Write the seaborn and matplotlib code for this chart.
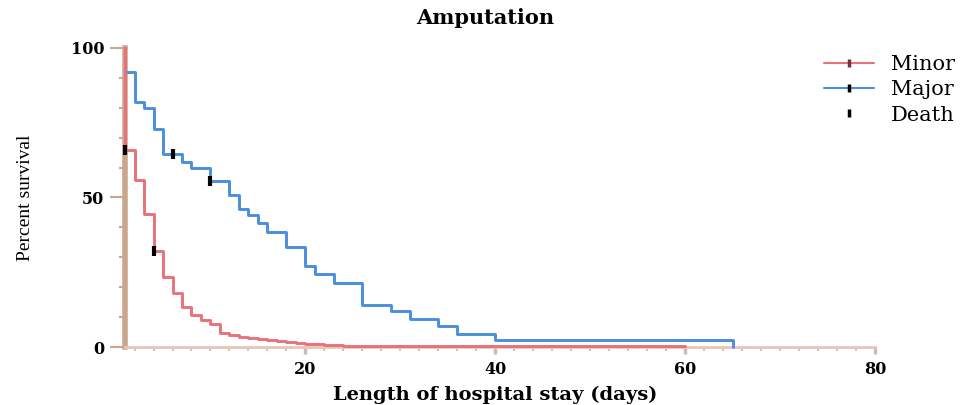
import pandas as pd
import matplotlib.pyplot as plt
import seaborn as sns
from matplotlib.lines import Line2D
from matplotlib.ticker import MultipleLocator

# Kaplan-Meier steps
minor_days = [1, 1, 2, 3, 4, 5, 6, 7, 8, 9, 10, 11, 12, 13, 14, 15, 16, 17, 18, 19, 20, 21, 22, 24, 26, 60]
minor_pct = [100, 66, 56, 44.5, 32, 23.5, 18, 13.5, 10.7, 9, 7.7, 4.7, 4.0, 3.4, 3.0, 2.6, 2.2, 1.9,
             1.6, 1.3, 1.1, 0.9, 0.7, 0.5, 0.3, 0.3]
major_days = [1, 1, 2, 3, 4, 5, 7, 8, 10, 12, 13, 14, 15, 16, 18, 20, 21, 23, 26, 29, 31, 34, 36, 40, 65, 65]
major_pct = [100, 92, 82, 80, 73, 64.5, 62, 60, 55.5, 51, 46, 44, 41.5, 38.5, 33.5, 27, 24.5, 21.5,
             14, 12, 9.5, 7, 4.5, 2.2, 2.2, 0]

# censored points
death_days = [1, 4, 6, 10]
death_pct = [66, 32, 64.5, 55.5]

red = '#e8717a'
blue = '#4a8fdc'
tan = '#c9a68c'

df = pd.concat([
    pd.DataFrame({'day': minor_days, 'pct': minor_pct, 'group': 'Minor'}),
    pd.DataFrame({'day': major_days, 'pct': major_pct, 'group': 'Major'}),
])
df_death = pd.DataFrame({'day': death_days, 'pct': death_pct})

sns.set_style('white')
plt.rcParams['font.family'] = ['DejaVu Serif']
plt.rcParams['text.color'] = 'black'
plt.rcParams['xtick.color'] = 'black'
plt.rcParams['ytick.color'] = 'black'

fig = plt.figure(figsize=(9.7, 4.05), dpi=100)
ax = fig.add_axes([0.1289, 0.1432, 0.7732, 0.7383])

sns.lineplot(data=df, x='day', y='pct', hue='group', palette={'Minor': red, 'Major': blue},
             hue_order=['Major', 'Minor'], estimator=None, sort=False, drawstyle='steps-post',
             linewidth=2.1, legend=False, ax=ax, clip_on=False, zorder=3)
sns.scatterplot(data=df_death, x='day', y='pct', marker='|', s=45, linewidth=3,
                color='black', legend=False, ax=ax, zorder=5, clip_on=False)

ax.set_xlim(1, 80)
ax.set_ylim(0, 100)
sns.despine(ax=ax)
ax.spines['left'].set_color(tan)
ax.spines['left'].set_linewidth(4)
ax.spines['bottom'].set_color('#e6c6b8')
ax.spines['bottom'].set_linewidth(2)

ax.set_yticks([0, 50, 100])
ax.yaxis.set_minor_locator(MultipleLocator(10))
ax.set_xticks([20, 40, 60, 80])
ax.xaxis.set_minor_locator(MultipleLocator(2))
ax.tick_params(axis='both', which='both', bottom=True, left=True, direction='out')
ax.tick_params(axis='y', which='major', length=11, width=1.5, color=tan, pad=4)
ax.tick_params(axis='y', which='minor', length=4.5, width=1.5, color=tan)
ax.tick_params(axis='x', which='major', length=5, width=2.5, color='#c8bcb4', pad=5)
ax.tick_params(axis='x', which='minor', length=3, width=1.5, color='#d8c0b4')
for lab in ax.get_xticklabels() + ax.get_yticklabels():
    lab.set_fontweight('bold')
    lab.set_fontsize(11.5)
    lab.set_color('black')

ax.set_xlabel('')
ax.set_ylabel('')
fig.text(0.51, 0.025, 'Length of hospital stay (days)', ha='center', va='center',
         fontsize=14, fontweight='bold')
fig.text(0.026, 0.511, 'Percent survival', rotation=90, ha='center', va='center',
         fontsize=14, family=['Liberation Serif'])
fig.text(0.5, 0.955, 'Amputation', ha='center', va='center', fontsize=15, fontweight='bold')

handles = [
    Line2D([], [], color=red, lw=1.5, marker='|', mec='#7a3030', ms=6, mew=2.5),
    Line2D([], [], color=blue, lw=1.5, marker='|', mec='black', ms=6, mew=2.5),
    Line2D([], [], color='none', marker='|', mec='black', ms=6, mew=2.5),
]
fig.legend(handles, ['Minor', 'Major', 'Death'], loc='upper left',
           bbox_to_anchor=(0.83, 0.91), frameon=False, handlelength=2.4,
           labelspacing=0.3, prop={'family': 'DejaVu Serif', 'size': 15})

fig.savefig('out.png', dpi=100)
